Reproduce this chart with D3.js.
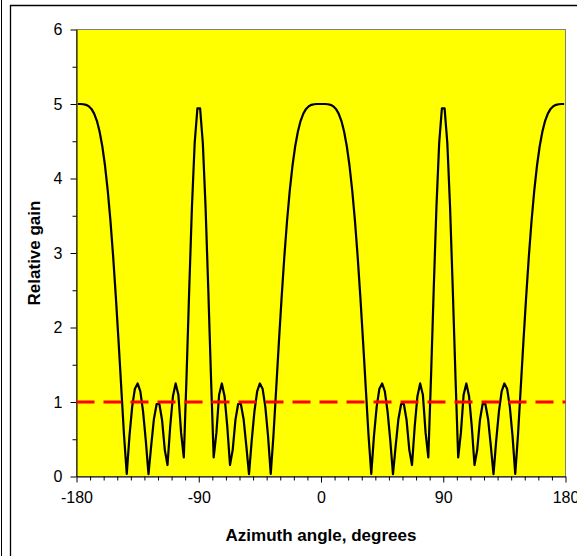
<!DOCTYPE html>
<html><head><meta charset="utf-8">
<script src="https://cdn.jsdelivr.net/npm/d3@7"></script>
<style>
html,body{margin:0;padding:0;background:#fff;}
svg{display:block;}
text{font-family:"Liberation Sans",Arial,sans-serif;}
</style></head>
<body>
<script>
// Sample angles (degrees)
const angles = [-179,-177,-175,-173,-171,-169,-167,-165,-163,-161,-159,-157,-155,-153,-151,-149,-147,-145,-143,-141,-139,-137,-135,-133,-131,-129,-127,-125,-123,-121,-119,-117,-115,-113,-111,-109,-107,-105,-103,-101,-99,-97,-95,-93,-91,
-89,-87,-85,-83,-81,-79,-77,-75,-73,-71,-69,-67,-65,-63,-61,-59,-57,-55,-53,-51,-49,-47,-45,-43,-41,-39,-37,-35,-33,-31,-29,-27,-25,-23,-21,-19,-17,-15,-13,-11,-9,-7,-5,-3,-1,
1,3,5,7,9,11,13,15,17,19,21,23,25,27,29,31,33,35,37,39,41,43,45,47,49,51,53,55,57,59,61,63,65,67,69,71,73,75,77,79,81,83,85,87,89,
91,93,95,97,99,101,103,105,107,109,111,113,115,117,119,121,123,125,127,129,131,133,135,137,139,141,143,145,147,149,151,153,155,157,159,161,163,165,167,169,171,173,175,177,179];
// Relative gain
const gain = [5.000,5.000,4.997,4.989,4.970,4.934,4.871,4.774,4.631,4.433,4.171,3.838,3.430,2.949,2.401,1.803,1.176,0.551,0.036,0.545,0.937,1.179,1.249,1.142,0.874,0.484,0.030,0.414,0.772,0.973,0.973,0.758,0.358,0.154,0.674,1.078,1.249,1.098,0.588,0.255,1.340,2.520,3.623,4.476,4.940,
4.940,4.476,3.623,2.520,1.340,0.255,0.588,1.098,1.249,1.078,0.674,0.154,0.358,0.758,0.973,0.973,0.772,0.414,0.030,0.484,0.874,1.142,1.249,1.179,0.937,0.545,0.036,0.551,1.176,1.803,2.401,2.949,3.430,3.838,4.171,4.433,4.631,4.774,4.871,4.934,4.970,4.989,4.997,5.000,5.000,
5.000,5.000,4.997,4.989,4.970,4.934,4.871,4.774,4.631,4.433,4.171,3.838,3.430,2.949,2.401,1.803,1.176,0.551,0.036,0.545,0.937,1.179,1.249,1.142,0.874,0.484,0.030,0.414,0.772,0.973,0.973,0.758,0.358,0.154,0.674,1.078,1.249,1.098,0.588,0.255,1.340,2.520,3.623,4.476,4.940,
4.940,4.476,3.623,2.520,1.340,0.255,0.588,1.098,1.249,1.078,0.674,0.154,0.358,0.758,0.973,0.973,0.772,0.414,0.030,0.484,0.874,1.142,1.249,1.179,0.937,0.545,0.036,0.551,1.176,1.803,2.401,2.949,3.430,3.838,4.171,4.433,4.631,4.774,4.871,4.934,4.970,4.989,4.997,5.000,5.000];
// Reference level (dashed line)
const refAngles = [-180, 180];
const refGain = [1, 1];
// Axis ticks
const xTicks = [-180,-90,0,90,180];
const xTickLabels = ["-180","-90","0","90","180"];
const yTicks = [0,1,2,3,4,5,6];
const yTickLabels = ["0","1","2","3","4","5","6"];
const xTitle = "Azimuth angle, degrees";
const yTitle = "Relative gain";

const W = 577, H = 556;
const svg = d3.select("body").append("svg").attr("width", W).attr("height", H);

// frame lines
svg.append("line").attr("x1",1.5).attr("x2",1.5).attr("y1",0).attr("y2",H).attr("stroke","#000").attr("stroke-width",1);
svg.append("line").attr("x1",10.5).attr("x2",10.5).attr("y1",5).attr("y2",H).attr("stroke","#000").attr("stroke-width",1.3);
svg.append("line").attr("x1",10).attr("x2",W).attr("y1",5.5).attr("y2",5.5).attr("stroke","#000").attr("stroke-width",1.3);

const L = 76.5, R = 565.5, T = 29.5, B = 476.5;
const x = d3.scaleLinear().domain([-180,180]).range([L,R]);
const y = d3.scaleLinear().domain([0,6]).range([B,T]);

svg.append("rect").attr("x",L).attr("y",T).attr("width",R-L).attr("height",B-T)
  .attr("fill","#FFFF00").attr("stroke","#808080").attr("stroke-width",1);

// minor ticks
const xMinor = d3.range(-180,181,10).filter(v => xTicks.indexOf(v) < 0);
const yMinor = d3.range(0.5,6,1);
const gxm = svg.append("g").attr("transform",`translate(0,${B})`)
  .call(d3.axisBottom(x).tickValues(xMinor).tickSize(4).tickFormat(""));
const gym = svg.append("g").attr("transform",`translate(${L},0)`)
  .call(d3.axisLeft(y).tickValues(yMinor).tickSize(4).tickFormat(""));
[gxm,gym].forEach(g=>{g.select(".domain").remove(); g.selectAll("line").attr("stroke","#000");});

// major axes
const gx = svg.append("g").attr("transform",`translate(0,${B})`)
  .call(d3.axisBottom(x).tickValues(xTicks).tickSize(6).tickSizeOuter(0).tickPadding(9)
    .tickFormat((d,i)=>xTickLabels[i]));
const gy = svg.append("g").attr("transform",`translate(${L},0)`)
  .call(d3.axisLeft(y).tickValues(yTicks).tickSize(6).tickSizeOuter(0).tickPadding(8)
    .tickFormat((d,i)=>yTickLabels[i]));
[gx,gy].forEach(g=>{
  g.select(".domain").attr("stroke","#000").attr("stroke-width",1);
  g.selectAll("line").attr("stroke","#000");
  g.selectAll("text").attr("font-size",16).attr("fill","#000").attr("font-family","Liberation Sans, Arial, sans-serif");
});

// data
const pts = angles.map((a,i)=>[a,gain[i]]);
svg.append("path").datum(pts)
  .attr("d", d3.line().x(d=>x(d[0])).y(d=>y(d[1])))
  .attr("fill","none").attr("stroke","#000").attr("stroke-width",2.2).attr("stroke-linejoin","round");

svg.append("path").datum(refAngles.map((a,i)=>[a,refGain[i]]))
  .attr("d", d3.line().x(d=>x(d[0])).y(d=>y(d[1])))
  .attr("fill","none").attr("stroke","#FF0000").attr("stroke-width",3).attr("stroke-dasharray","18,9");

// titles
svg.append("text").attr("x",(L+R)/2).attr("y",541).attr("text-anchor","middle")
  .attr("font-size",17).attr("font-weight","bold").text(xTitle);
svg.append("text").attr("transform",`translate(40,${(T+B)/2}) rotate(-90)`).attr("text-anchor","middle")
  .attr("font-size",17).attr("font-weight","bold").text(yTitle);
</script>
</body></html>
